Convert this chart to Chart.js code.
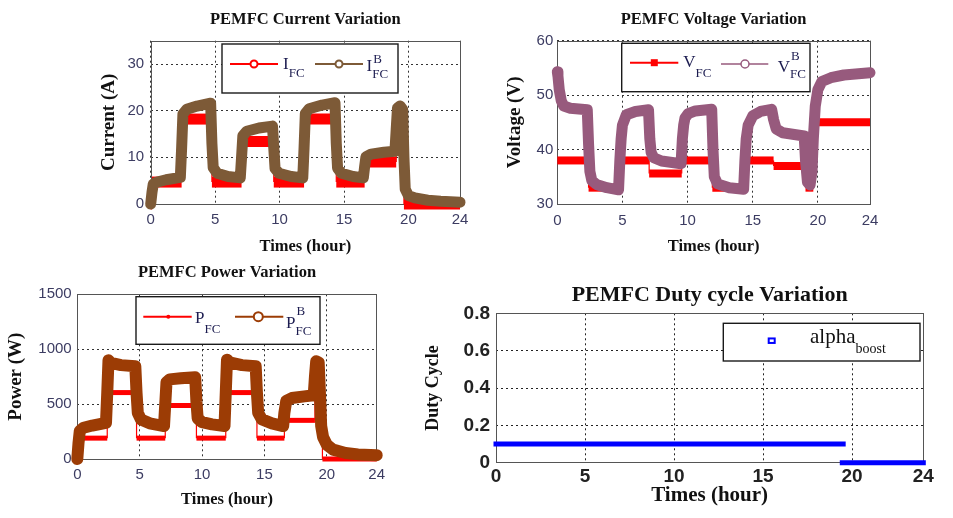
<!DOCTYPE html>
<html>
<head>
<meta charset="utf-8">
<script src="https://cdn.jsdelivr.net/npm/chart.js@4.4.1/dist/chart.umd.min.js"></script>
<style>
html, body { margin: 0; padding: 0; background: #ffffff; }
body { width: 953px; height: 518px; position: relative; overflow: hidden; }
.panel { position: absolute; }
canvas { display: block; }
</style>
</head>
<body>
<div class="panel" style="left:0px;top:0px;width:476px;height:259px"><canvas id="c1" width="476" height="259"></canvas></div>
<div class="panel" style="left:476px;top:0px;width:477px;height:259px"><canvas id="c2" width="477" height="259"></canvas></div>
<div class="panel" style="left:0px;top:259px;width:400px;height:259px"><canvas id="c3" width="400" height="259"></canvas></div>
<div class="panel" style="left:400px;top:259px;width:553px;height:259px"><canvas id="c4" width="553" height="259"></canvas></div>
<script>
// ---------------- tick labels ----------------
const xTicks = [0, 5, 10, 15, 20, 24];
const currentTicks = [0, 10, 20, 30];
const voltageTicks = [30, 40, 50, 60];
const powerTicks = [0, 500, 1000, 1500];
const dutyTicks = [0, 0.2, 0.4, 0.6, 0.8];

// ---------------- PEMFC current (A) ----------------
const ifcTime = [0, 0.1, 0.1, 2.4, 2.4, 4.75, 4.75, 7.05, 7.05, 9.55, 9.55, 11.9, 11.9, 14.4, 14.4, 16.6, 16.6, 19.05, 19.05, 19.65, 19.65, 24];
const ifcVal  = [0, 0, 4.7, 4.7, 18.2, 18.2, 4.7, 4.7, 13.4, 13.4, 4.7, 4.7, 18.2, 18.2, 4.7, 4.7, 9.0, 9.0, 18.2, 18.2, 0, 0];
const ibTime = [0, 0.1, 0.2, 0.5, 1.2, 2.3, 2.4, 2.5, 2.8, 3.6, 4.65, 4.75, 4.85, 5.15, 6.0, 6.95, 7.05, 7.15, 7.45, 8.4, 9.45, 9.55, 9.65, 9.95, 10.9, 11.8, 11.9, 12.0, 12.3, 13.3, 14.3, 14.4, 14.5, 14.8, 15.7, 16.5, 16.6, 16.7, 17.1, 18.1, 18.95, 19.05, 19.15, 19.35, 19.55, 19.65, 19.75, 20.0, 20.5, 21.5, 22.5, 24];
const ibVal  = [0, 2.5, 4.3, 4.7, 5.2, 5.7, 12, 19.3, 20.3, 21.0, 21.6, 13, 7.8, 6.6, 5.9, 5.6, 10, 14.6, 15.6, 16.3, 16.7, 12, 7.6, 6.6, 5.9, 5.6, 12, 19.4, 20.4, 21.2, 21.7, 13, 7.7, 6.6, 5.9, 5.6, 8, 10.1, 10.7, 11.1, 11.3, 16, 20.6, 21.0, 20.3, 10, 3.2, 1.8, 1.3, 0.8, 0.6, 0.4];

// ---------------- PEMFC voltage (V) ----------------
const vfcTime = [0, 2.4, 2.4, 4.75, 4.75, 7.05, 7.05, 9.55, 9.55, 11.9, 11.9, 14.4, 14.4, 16.6, 16.6, 19.05, 19.05, 19.65, 19.65, 24];
const vfcVal  = [38, 38, 33, 33, 38, 38, 35.6, 35.6, 38, 38, 33, 33, 38, 38, 37, 37, 33, 33, 45, 45];
const vbTime = [0, 0.05, 0.15, 0.3, 0.5, 1.0, 2.3, 2.4, 2.5, 2.65, 3.0, 3.8, 4.7, 4.8, 4.9, 5.0, 5.3, 6.0, 7.0, 7.1, 7.2, 7.4, 8.0, 9.5, 9.6, 9.7, 9.8, 10.05, 10.6, 11.85, 11.95, 12.05, 12.3, 13.2, 14.3, 14.4, 14.5, 14.65, 15.0, 15.6, 16.45, 16.6, 16.8, 17.3, 18.95, 19.05, 19.2, 19.4, 19.55, 19.65, 19.8, 20.0, 20.3, 21.0, 22.0, 24];
const vbVal  = [54.3, 53.5, 51, 49, 48, 47.6, 47.3, 41, 36, 34.3, 33.6, 33.0, 32.6, 38, 42, 44.5, 46.4, 47.0, 47.3, 42, 39.5, 38.5, 37.9, 37.4, 42, 44.5, 45.8, 46.6, 47.1, 47.4, 40, 35, 33.7, 33.0, 32.7, 38, 42, 44.5, 46.2, 47.0, 47.4, 45.5, 43.8, 43.1, 42.5, 38, 34, 33.5, 36, 42, 48, 51, 52.5, 53.2, 53.7, 54.1];

// ---------------- PEMFC power (W) ----------------
const pfcTime = [0, 0.1, 0.1, 2.4, 2.4, 4.75, 4.75, 7.05, 7.05, 9.55, 9.55, 11.9, 11.9, 14.4, 14.4, 16.6, 16.6, 19.05, 19.05, 19.65, 19.65, 24];
const pfcVal  = [0, 0, 190, 190, 605, 605, 190, 190, 487, 487, 190, 190, 605, 605, 190, 190, 352, 352, 600, 600, 0, 0];
const pbTime = [0, 0.1, 0.2, 0.5, 1.2, 2.3, 2.4, 2.5, 2.7, 3.5, 4.65, 4.75, 4.85, 5.1, 5.8, 6.95, 7.05, 7.15, 7.4, 8.3, 9.45, 9.55, 9.65, 10.0, 10.8, 11.8, 11.9, 12.0, 12.2, 13.2, 14.3, 14.4, 14.5, 14.8, 15.6, 16.5, 16.6, 16.75, 17.2, 18.2, 18.95, 19.05, 19.15, 19.35, 19.45, 19.55, 19.7, 20.0, 20.5, 21.5, 22.5, 24];
const pbVal  = [0, 150, 255, 285, 305, 330, 600, 900, 875, 855, 845, 600, 420, 360, 325, 300, 500, 700, 725, 735, 745, 520, 370, 335, 315, 300, 600, 905, 880, 855, 845, 600, 420, 360, 325, 300, 420, 530, 555, 570, 580, 750, 890, 880, 600, 300, 200, 130, 85, 55, 42, 35];

// ---------------- duty cycle ----------------
const dutyTime = [0, 19.5, 19.5, 19.45, 24];
const dutyVal  = [0.1, 0.1, null, 0, 0];

// ---------------- helpers ----------------
const SERIF = "'Liberation Serif', 'Times New Roman', serif";
const SANS = "'Liberation Sans', Arial, sans-serif";
function pts(t, v) { return t.map((x, i) => ({ x: x, y: v[i] })); }
function setTicks(vals) { return s => { s.ticks = vals.map(v => ({ value: v })); }; }
function stepSegment(w) { return { borderWidth: c => (c.p0.parsed.y === c.p1.parsed.y ? w : 1.2) }; }

function drawLegend(ctx, L) {
  ctx.save();
  ctx.fillStyle = '#ffffff';
  ctx.fillRect(L.x, L.y, L.w, L.h);
  ctx.strokeStyle = '#1a1a1a';
  ctx.lineWidth = 1.4;
  ctx.strokeRect(L.x, L.y, L.w, L.h);
  L.items.forEach(it => {
    ctx.strokeStyle = it.color;
    ctx.fillStyle = it.color;
    if (it.x2 > it.x1) {
      ctx.lineWidth = it.lw;
      ctx.beginPath(); ctx.moveTo(it.x1, it.y); ctx.lineTo(it.x2, it.y); ctx.stroke();
    }
    ctx.lineWidth = it.mlw || 1.5;
    if (it.marker === 'circle') {
      ctx.beginPath(); ctx.arc(it.mx, it.y, it.ms, 0, Math.PI * 2);
      ctx.fillStyle = '#ffffff'; ctx.fill(); ctx.stroke();
    } else if (it.marker === 'square') {
      ctx.fillRect(it.mx - it.ms, it.y - it.ms, it.ms * 2, it.ms * 2);
    } else if (it.marker === 'dot') {
      ctx.beginPath(); ctx.arc(it.mx, it.y, it.ms, 0, Math.PI * 2); ctx.fill();
    } else if (it.marker === 'hsquare') {
      ctx.strokeRect(it.mx - it.ms, it.y - it.ms * 0.75, it.ms * 2, it.ms * 1.5);
    }
    ctx.fillStyle = L.textColor;
    ctx.textAlign = 'left';
    ctx.textBaseline = 'alphabetic';
    ctx.font = L.mainFont;
    ctx.fillText(it.main, it.tx, it.base);
    const w = ctx.measureText(it.main).width;
    ctx.font = L.subFont;
    if (it.sup) ctx.fillText(it.sup, it.tx + w + 1, it.supBase);
    if (it.sub) ctx.fillText(it.sub, it.tx + w, it.subBase);
  });
  ctx.restore();
}

const frameAndTitle = {
  id: 'frameAndTitle',
  afterLayout(chart) {
    const a = chart.chartArea, tb = chart.titleBlock;
    if (tb) { tb.left = a.left; tb.right = a.right; }
  },
  beforeDatasetsDraw(chart) {
    const ctx = chart.ctx, a = chart.chartArea;
    ctx.save();
    ctx.strokeStyle = '#555555';
    ctx.lineWidth = 1;
    ctx.strokeRect(Math.round(a.left) + 0.5, Math.round(a.top) + 0.5, Math.round(a.right - a.left), Math.round(a.bottom - a.top));
    ctx.restore();
  },
  afterDatasetsDraw(chart, args, opts) {
    if (opts && opts.legend) drawLegend(chart.ctx, opts.legend);
  }
};

function makeChart(id, p) {
  return new Chart(document.getElementById(id), {
    type: 'line',
    data: { datasets: p.datasets },
    options: {
      responsive: false,
      animation: false,
      devicePixelRatio: 1,
      events: [],
      layout: { padding: p.padding },
      plugins: {
        legend: { display: false },
        tooltip: { enabled: false },
        title: {
          display: true, text: p.title, color: '#111111',
          font: { family: SERIF, size: p.titleSize, weight: 'bold', lineHeight: 1.2 },
          padding: { top: 0, bottom: p.titleGap }
        },
        frameAndTitle: { legend: p.legend }
      },
      scales: {
        x: {
          type: 'linear', min: 0, max: 24,
          afterBuildTicks: setTicks(xTicks),
          afterFit: s => { s.height = p.xAxisH; },
          ticks: { autoSkip: false, maxRotation: 0, padding: p.xTickPad, color: p.tickColor, font: p.tickFont, callback: v => String(v) },
          grid: { color: p.gridColor, lineWidth: 1, drawTicks: false },
          border: { display: false, dash: [2, 3] },
          title: { display: true, text: 'Times (hour)', color: '#111111', padding: 0,
                   font: { family: SERIF, size: p.xTitleSize, weight: 'bold', lineHeight: 1.2 } }
        },
        y: {
          type: 'linear', min: p.yMin, max: p.yMax,
          afterBuildTicks: setTicks(p.yTicks),
          afterFit: s => { s.width = p.yAxisW; },
          ticks: { autoSkip: false, padding: p.yTickPad, color: p.tickColor, font: p.tickFont, callback: v => String(v) },
          grid: { color: p.gridColor, lineWidth: 1, drawTicks: false },
          border: { display: false, dash: [2, 3] },
          title: { display: true, text: p.yTitle, color: '#111111', padding: 0,
                   font: { family: SERIF, size: p.yTitleSize, weight: 'bold', lineHeight: 1.2 } }
        }
      }
    },
    plugins: [frameAndTitle]
  });
}

const TICK_COLOR = '#3c3c62';
const TICK_FONT = { family: SANS, size: 15, lineHeight: 1.2 };
const LEG_MAIN = "17px 'Liberation Serif', serif";
const LEG_SUB = "13px 'Liberation Serif', serif";
const LEG_TEXT = '#1c1c50';

const RED = '#ff0000';
const BROWN_I = '#7d5a37';
const MAUVE = '#975a7d';
const BROWN_P = '#9c3c05';
const BLUE = '#0000ff';

// ---------------- Chart 1: current ----------------
makeChart('c1', {
  title: 'PEMFC Current Variation', titleSize: 16.5, titleGap: 10.9,
  padding: { left: 97.6, right: 16, top: 10, bottom: 2.4 },
  xAxisH: 52.6, xTickPad: 7, xTitleSize: 16.5,
  yAxisW: 53.1, yTickPad: 6.5, yTitle: 'Current (A)', yTitleSize: 19,
  yMin: 0, yMax: 35, yTicks: currentTicks,
  tickColor: TICK_COLOR, tickFont: TICK_FONT, gridColor: '#333333',
  datasets: [
    { label: 'I_FC^B', data: pts(ibTime, ibVal), borderColor: BROWN_I, backgroundColor: BROWN_I,
      borderWidth: 11, pointRadius: 0, tension: 0, clip: false, borderJoinStyle: 'round', borderCapStyle: 'round', order: 0 },
    { label: 'I_FC', data: pts(ifcTime, ifcVal), borderColor: RED, backgroundColor: RED,
      borderWidth: 11, segment: stepSegment(11), pointRadius: 0, tension: 0, clip: false, borderCapStyle: 'butt', order: 1 }
  ],
  legend: {
    x: 222, y: 44, w: 176, h: 49, mainFont: LEG_MAIN, subFont: LEG_SUB, textColor: LEG_TEXT,
    items: [
      { x1: 230, x2: 278, y: 64, color: RED, lw: 2, marker: 'circle', mx: 254, ms: 3.5, mlw: 2,
        tx: 283, main: 'I', base: 69, sub: 'FC', subBase: 77 },
      { x1: 315, x2: 363, y: 64, color: BROWN_I, lw: 2, marker: 'circle', mx: 339, ms: 3.5, mlw: 2,
        tx: 366.5, main: 'I', base: 71, sup: 'B', supBase: 63, sub: 'FC', subBase: 78 }
    ]
  }
});

// ---------------- Chart 2: voltage ----------------
makeChart('c2', {
  title: 'PEMFC Voltage Variation', titleSize: 16.5, titleGap: 10.9,
  padding: { left: 27.6, right: 83, top: 10, bottom: 2.4 },
  xAxisH: 52.6, xTickPad: 8, xTitleSize: 16.5,
  yAxisW: 53.7, yTickPad: 4, yTitle: 'Voltage (V)', yTitleSize: 19,
  yMin: 30, yMax: 60, yTicks: voltageTicks,
  tickColor: TICK_COLOR, tickFont: TICK_FONT, gridColor: '#333333',
  datasets: [
    { label: 'V_FC^B', data: pts(vbTime, vbVal), borderColor: MAUVE, backgroundColor: MAUVE,
      borderWidth: 11, pointRadius: 0, tension: 0, clip: false, borderJoinStyle: 'round', borderCapStyle: 'round', order: 0 },
    { label: 'V_FC', data: pts(vfcTime, vfcVal), borderColor: RED, backgroundColor: RED,
      borderWidth: 8, segment: stepSegment(8), pointRadius: 0, tension: 0, clip: false, borderCapStyle: 'butt', order: 1 }
  ],
  legend: {
    x: 145.7, y: 43.3, w: 188.3, h: 48.4, mainFont: LEG_MAIN, subFont: LEG_SUB, textColor: LEG_TEXT,
    items: [
      { x1: 154, x2: 202.3, y: 62.7, color: RED, lw: 2, marker: 'square', mx: 178.3, ms: 3.5,
        tx: 207.3, main: 'V', base: 67, sub: 'FC', subBase: 77 },
      { x1: 245, x2: 292.3, y: 64, color: MAUVE, lw: 1.5, marker: 'circle', mx: 269, ms: 4, mlw: 1.5,
        tx: 301.7, main: 'V', base: 72, sup: 'B', supBase: 60, sub: 'FC', subBase: 78 }
    ]
  }
});

// ---------------- Chart 3: power ----------------
makeChart('c3', {
  title: 'PEMFC Power Variation', titleSize: 16.5, titleGap: 11.9,
  padding: { left: 4.6, right: 23.3, top: 3.6, bottom: 8.1 },
  xAxisH: 50.9, xTickPad: 7, xTitleSize: 16.5,
  yAxisW: 72.7, yTickPad: 5.6, yTitle: 'Power (W)', yTitleSize: 19,
  yMin: 0, yMax: 1500, yTicks: powerTicks,
  tickColor: TICK_COLOR, tickFont: TICK_FONT, gridColor: '#333333',
  datasets: [
    { label: 'P_FC^B', data: pts(pbTime, pbVal), borderColor: BROWN_P, backgroundColor: BROWN_P,
      borderWidth: 12, pointRadius: 0, tension: 0, clip: false, borderJoinStyle: 'round', borderCapStyle: 'round', order: 0 },
    { label: 'P_FC', data: pts(pfcTime, pfcVal), borderColor: RED, backgroundColor: RED,
      borderWidth: 5, segment: stepSegment(5), pointRadius: 0, tension: 0, clip: false, borderCapStyle: 'butt', order: 1 }
  ],
  legend: {
    x: 136, y: 37.7, w: 184, h: 47.6, mainFont: LEG_MAIN, subFont: LEG_SUB, textColor: LEG_TEXT,
    items: [
      { x1: 143.3, x2: 191.7, y: 57.7, color: RED, lw: 2, marker: 'dot', mx: 168.3, ms: 2,
        tx: 195, main: 'P', base: 64.3, sub: 'FC', subBase: 74.3 },
      { x1: 235, x2: 283.3, y: 57.7, color: BROWN_P, lw: 2, marker: 'circle', mx: 258.3, ms: 4.5, mlw: 2,
        tx: 286, main: 'P', base: 69.3, sup: 'B', supBase: 56, sub: 'FC', subBase: 76 }
    ]
  }
});

// ---------------- Chart 4: duty cycle ----------------
makeChart('c4', {
  title: 'PEMFC Duty cycle Variation', titleSize: 22, titleGap: 5.1,
  padding: { left: 22.5, right: 29.7, top: 22.8, bottom: 9.9 },
  xAxisH: 45.4, xTickPad: 2.6, xTitleSize: 21,
  yAxisW: 73.5, yTickPad: 6, yTitle: 'Duty Cycle', yTitleSize: 18,
  yMin: 0, yMax: 0.8, yTicks: dutyTicks,
  tickColor: '#222222', tickFont: { family: SANS, size: 19, weight: 'bold', lineHeight: 1.2 }, gridColor: '#222222',
  datasets: [
    { label: 'alpha_boost', data: pts(dutyTime, dutyVal), borderColor: BLUE, backgroundColor: BLUE,
      borderWidth: 5, pointRadius: 0, tension: 0, clip: false, spanGaps: false, borderCapStyle: 'square' }
  ],
  legend: {
    x: 323.3, y: 64.3, w: 196.7, h: 37.7,
    mainFont: "21px 'Liberation Serif', serif", subFont: "14px 'Liberation Serif', serif", textColor: '#111111',
    items: [
      { x1: 0, x2: 0, y: 81.7, color: BLUE, lw: 0, marker: 'hsquare', mx: 371.7, ms: 3, mlw: 2,
        tx: 410, main: 'alpha', base: 84.3, sub: 'boost', subBase: 94.3 }
    ]
  }
});
</script>
</body>
</html>
